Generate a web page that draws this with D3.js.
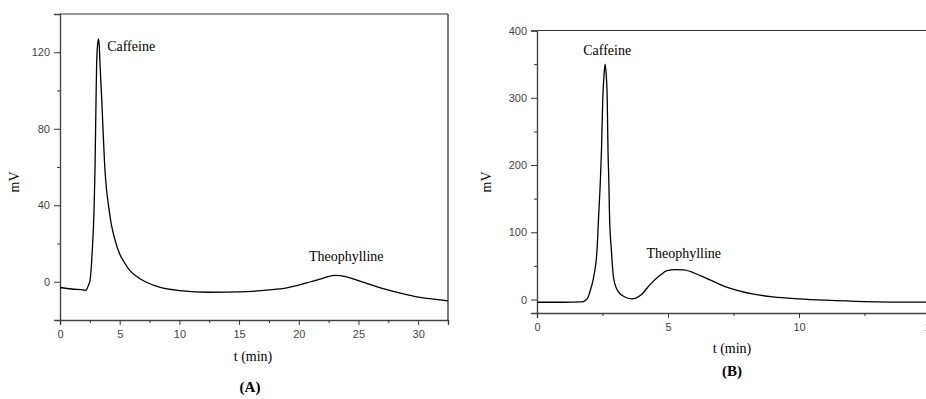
<!DOCTYPE html>
<html>
<head>
  <meta charset="utf-8">
  <script src="https://d3js.org/d3.v7.min.js"></script>
  <style>
    body { margin: 0; background: #fff; }
    svg { display: block; }
  </style>
</head>
<body>
<div id="chart"></div>
<script>
  // chromatogram (A)
  var timeA = [0, 1, 2, 2.1, 2.25, 2.4, 2.51, 2.6, 2.7, 2.85, 2.93, 3.02, 3.07, 3.15, 3.24, 3.3, 3.35, 3.49, 3.63, 3.77, 3.9, 4.05, 4.3, 4.6, 5.0, 5.3, 5.86, 6.5, 7, 8.4, 10, 12.5, 15, 17.5, 19, 20, 21, 22, 23, 24, 25, 26, 27, 28.5, 30, 31.5, 32.5];
  var mvA   = [-3, -3.8, -4.4, -4.5, -3.8, -1.5, 0.5, 6, 16, 37, 58, 96, 114, 124, 127, 122, 114, 96, 76, 58, 48, 40.5, 30, 22, 14.5, 11, 5.8, 2.5, 0.5, -3, -4.6, -5.5, -5.3, -4.3, -3.2, -1.8, 0, 1.8, 3.3, 2.6, 0.6, -1.5, -3.5, -6, -8, -9.2, -10];
  // chromatogram (B)
  var timeB = [0, 1, 1.7, 1.84, 1.95, 2.03, 2.16, 2.29, 2.35, 2.42, 2.46, 2.51, 2.56, 2.6, 2.64, 2.68, 2.71, 2.74, 2.77, 2.84, 2.92, 3.08, 3.37, 3.63, 4.0, 4.33, 4.7, 4.96, 5.3, 5.6, 6.23, 7.13, 8.27, 9, 10, 11, 12.5, 15];
  var mvB   = [-4, -4, -3.6, -1.5, 3.5, 13, 33, 73, 122, 178, 221, 298, 335, 350, 335, 298, 221, 178, 122, 73, 33, 13, 3.4, 1, 8, 23, 36, 43, 44.5, 44, 35.7, 20, 8, 4, 1, -1, -3, -4];

  var ticksAx = [0, 5, 10, 15, 20, 25, 30];
  var ticksAy = [0, 40, 80, 120];
  var ticksBx = [0, 5, 10, 15];
  var ticksBy = [0, 100, 200, 300, 400];

  var W = 926, H = 399;
  var svg = d3.select("#chart").append("svg")
    .attr("width", W).attr("height", H);

  function panel(cfg) {
    var x = d3.scaleLinear().domain(cfg.xdom).range([cfg.left, cfg.right]);
    var y = d3.scaleLinear().domain(cfg.ydom).range([cfg.bottom, cfg.top]);
    var g = svg.append("g");

    // frame
    g.append("line").attr("x1", cfg.left).attr("x2", cfg.right).attr("y1", cfg.top).attr("y2", cfg.top)
      .attr("stroke", "#333").attr("stroke-width", 1.2);
    if (cfg.box) {
      g.append("line").attr("x1", cfg.right).attr("x2", cfg.right).attr("y1", cfg.top).attr("y2", cfg.bottom)
        .attr("stroke", "#444").attr("stroke-width", 1.4);
    }

    g.append("g").attr("transform", "translate(0," + cfg.bottom + ")")
      .call(d3.axisBottom(x).tickValues(cfg.xticks).tickSize(5).tickPadding(5).tickFormat(d3.format("d")));
    g.append("g").attr("transform", "translate(0," + cfg.bottom + ")")
      .call(d3.axisBottom(x).tickValues(cfg.xminor).tickSize(3).tickFormat(""))
      .select(".domain").remove();

    g.append("g").attr("transform", "translate(" + cfg.left + ",0)")
      .call(d3.axisLeft(y).tickValues(cfg.yticks).tickSize(6).tickPadding(4).tickFormat(d3.format("d")));
    g.append("g").attr("transform", "translate(" + cfg.left + ",0)")
      .call(d3.axisLeft(y).tickValues(cfg.yminor).tickSize(3).tickFormat(""))
      .select(".domain").remove();

    g.selectAll(".domain").attr("stroke", "#444").attr("stroke-width", 1.4);
    g.selectAll(".tick line").attr("stroke", "#333");
    g.selectAll(".tick text").attr("fill", "#444")
      .style("font-family", "Liberation Sans, Arial, sans-serif").style("font-size", "11px");

    var line = d3.line()
      .x(function(d, i) { return x(cfg.t[i]); })
      .y(function(d) { return y(d); })
      .curve(d3.curveMonotoneX);
    g.append("path").datum(cfg.v)
      .attr("d", line)
      .attr("fill", "none").attr("stroke", "#000").attr("stroke-width", 1.3);

    var serif = "Liberation Serif, Times New Roman, serif";
    cfg.notes.forEach(function(n) {
      g.append("text").attr("x", x(n.t)).attr("y", y(n.v))
        .attr("text-anchor", n.anchor).attr("dominant-baseline", "middle")
        .style("font-family", serif).style("font-size", "14px")
        .text(n.label);
    });

    g.append("text")
      .attr("transform", "translate(" + cfg.ylabX + "," + cfg.ylabY + ") rotate(-90)")
      .attr("text-anchor", "middle").attr("dominant-baseline", "middle")
      .style("font-family", serif).style("font-size", "14px")
      .text("mV");
    g.append("text").attr("x", cfg.xlabX).attr("y", cfg.xlabY)
      .attr("text-anchor", "middle").attr("dominant-baseline", "middle")
      .style("font-family", serif).style("font-size", "14px")
      .text("t (min)");
    g.append("text").attr("x", cfg.tagX).attr("y", cfg.tagY)
      .attr("text-anchor", "middle").attr("dominant-baseline", "middle")
      .style("font-family", serif).style("font-size", "15px").style("font-weight", "bold")
      .text(cfg.tag);
  }

  panel({
    t: timeA, v: mvA,
    xdom: [0, 32.5], ydom: [-20, 140],
    left: 60, right: 448, top: 14, bottom: 320,
    box: true,
    xticks: ticksAx, xminor: [2.5, 7.5, 12.5, 17.5, 22.5, 27.5, 32.5],
    yticks: ticksAy, yminor: [-20, 20, 60, 100],
    notes: [
      { label: "Caffeine", t: 3.95, v: 122.5, anchor: "start" },
      { label: "Theophylline", t: 20.85, v: 12.6, anchor: "start" }
    ],
    ylabX: 16, ylabY: 182, xlabX: 253, xlabY: 358, tagX: 250, tagY: 389, tag: "(A)"
  });

  panel({
    t: timeB, v: mvB,
    xdom: [0, 15], ydom: [-20, 400],
    left: 537, right: 930, top: 30.5, bottom: 313,
    box: false,
    xticks: ticksBx, xminor: [2.5, 7.5, 12.5],
    yticks: ticksBy, yminor: [50, 150, 250, 350],
    notes: [
      { label: "Caffeine", t: 2.68, v: 368, anchor: "middle" },
      { label: "Theophylline", t: 5.6, v: 67, anchor: "middle" }
    ],
    ylabX: 488, ylabY: 182, xlabX: 732, xlabY: 350, tagX: 732, tagY: 373, tag: "(B)"
  });
</script>
</body>
</html>
